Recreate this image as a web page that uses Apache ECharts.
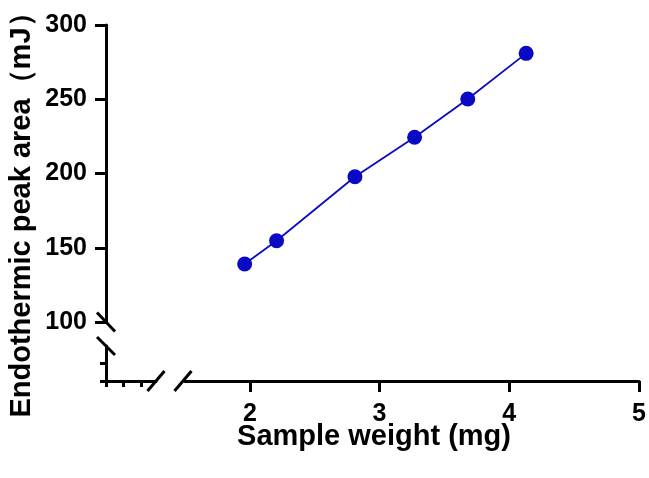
<!DOCTYPE html>
<html>
<head>
<meta charset="utf-8">
<script src="https://cdn.jsdelivr.net/npm/echarts@6/dist/echarts.min.js"></script>
<style>html,body{margin:0;padding:0;background:#fff}#c{width:649px;height:478px}</style>
</head>
<body>
<div id="c"></div>
<script>
var sampleWeight = [1.96, 2.206, 2.81, 3.27, 3.68, 4.13];
var peakArea = [139.1, 154.7, 197.8, 224.4, 250.2, 280.9];
var xTicks = [2, 3, 4, 5];
var yTicks = [100, 150, 200, 250, 300];
var xTitle = 'Sample weight (mg)';
var yTitle = 'Endothermic peak area（mJ）';

var FONT = '"Liberation Sans", Arial, sans-serif';
var AX = 106, AY = 381;          // axis corner
var MAIN_L = 185, MAIN_R = 639, MAIN_T = 25, MAIN_B = 322;
var LOW_R = 156, LOW_T = 346;
var lineW = 3;

var chart = echarts.init(document.getElementById('c'));
var axisStyle = {lineStyle: {color: '#000', width: lineW}};
var tickLS = {color: '#000', width: lineW};

var data = sampleWeight.map(function (x, i) { return [x, peakArea[i]]; });

function slash(cx, cy, dx, dy) {
  return {type: 'line', shape: {x1: cx - dx, y1: cy - dy, x2: cx + dx, y2: cy + dy},
    style: {stroke: '#000', lineWidth: lineW}, z: 100};
}

chart.setOption({
  animation: false,
  grid: [
    {left: MAIN_L, top: MAIN_T, width: MAIN_R - MAIN_L, height: MAIN_B - MAIN_T},
    {left: AX, top: LOW_T, width: LOW_R - AX, height: AY - LOW_T}
  ],
  xAxis: [
    {gridIndex: 0, type: 'value', min: 1.5, max: 5, offset: AY - MAIN_B,
     axisLine: axisStyle,
     axisTick: {show: true, inside: false, length: 11, lineStyle: tickLS, customValues: xTicks},
     axisLabel: {customValues: xTicks, margin: 21, fontFamily: FONT, fontWeight: 'bold', fontSize: 25, color: '#000'},
     splitLine: {show: false}},
    {gridIndex: 1, type: 'value', min: 0, max: (LOW_R - AX) / 17.5,
     axisLine: axisStyle,
     axisTick: {show: true, inside: false, length: 6, lineStyle: tickLS, customValues: [0, 1, 2]},
     axisLabel: {show: false}, splitLine: {show: false}}
  ],
  yAxis: [
    {gridIndex: 0, type: 'value', min: 100, max: 300, interval: 50, offset: MAIN_L - AX,
     axisLine: axisStyle,
     axisTick: {show: true, inside: false, length: 11, lineStyle: tickLS},
     axisLabel: {margin: 19, fontFamily: FONT, fontWeight: 'bold', fontSize: 25, color: '#000',
       customValues: yTicks},
     splitLine: {show: false}},
    {gridIndex: 1, type: 'value', min: 0, max: (AY - LOW_T) / 18,
     axisLine: axisStyle,
     axisTick: {show: true, inside: false, length: 6, lineStyle: tickLS, customValues: [0, 1]},
     axisLabel: {show: false}, splitLine: {show: false}}
  ],
  series: [{
    type: 'line', xAxisIndex: 0, yAxisIndex: 0, data: data,
    symbol: 'circle', symbolSize: 15,
    lineStyle: {color: '#0a0ac4', width: 1.8},
    itemStyle: {color: '#0a0ac4'}
  }],
  graphic: [
    slash(AX, MAIN_B, 9, 9.5),
    slash(AX, LOW_T, 9, 9),
    slash(LOW_R, AY, 8.5, -10),
    slash(MAIN_L - 2, AY, 8.5, -10),
    {type: 'text', x: 22, y: 208, rotation: Math.PI / 2,
     style: {text: yTitle, font: 'bold 29px ' + FONT, fill: '#000', align: 'center', verticalAlign: 'middle'}},
    {type: 'text', x: 374, y: 437,
     style: {text: xTitle, font: 'bold 29px ' + FONT, fill: '#000', align: 'center', verticalAlign: 'middle'}}
  ]
});
</script>
</body>
</html>
